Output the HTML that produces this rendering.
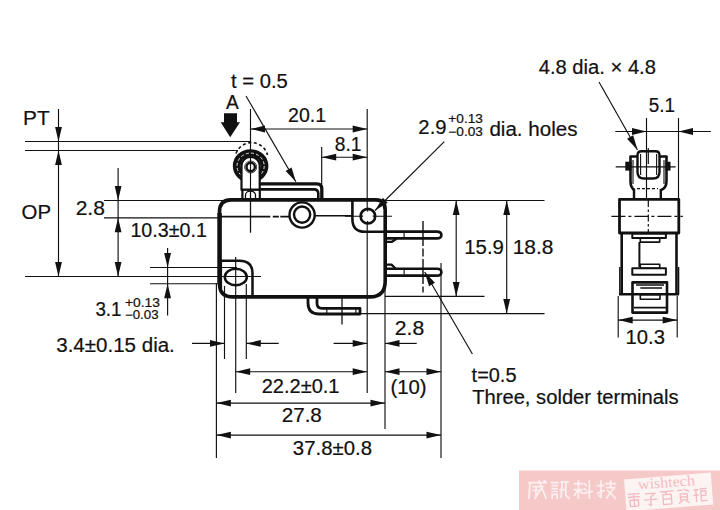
<!DOCTYPE html>
<html><head><meta charset="utf-8"><style>
html,body{margin:0;padding:0;background:#fff;overflow:hidden;}
svg{display:block;}
text{font-family:"Liberation Sans",sans-serif;fill:#111;stroke:#111;stroke-width:0.2px;}
</style></head><body>
<svg width="720" height="510" viewBox="0 0 720 510">
<rect width="720" height="510" fill="#fff"/>
<g stroke="#111" fill="none">
<line x1="25" y1="141.5" x2="250" y2="141.5" stroke-width="1.15"/>
<line x1="25" y1="150.5" x2="238" y2="150.5" stroke-width="1.15"/>
<line x1="25" y1="276.5" x2="261" y2="276.5" stroke-width="1.15"/>
<line x1="58.5" y1="109" x2="58.5" y2="276.5" stroke-width="1.15"/>
<line x1="104" y1="200.5" x2="230" y2="200.5" stroke-width="1.15"/>
<line x1="104" y1="217.9" x2="219" y2="217.9" stroke-width="1.15"/>
<line x1="118.1" y1="168" x2="118.1" y2="276.5" stroke-width="1.15"/>
<line x1="150" y1="267.5" x2="237" y2="267.5" stroke-width="1.15"/>
<line x1="150" y1="283.7" x2="219" y2="283.7" stroke-width="1.15"/>
<line x1="167.6" y1="248" x2="167.6" y2="315.5" stroke-width="1.15"/>
<line x1="250.5" y1="109" x2="250.5" y2="232.5" stroke-width="1.15"/>
<line x1="367.2" y1="109" x2="367.2" y2="393" stroke-width="1.15"/>
<line x1="250.5" y1="129" x2="367.2" y2="129" stroke-width="1.15"/>
<line x1="321.7" y1="147" x2="321.7" y2="184" stroke-width="1.15"/>
<line x1="321.7" y1="157.2" x2="367.2" y2="157.2" stroke-width="1.15"/>
<line x1="246" y1="96" x2="295.9" y2="181.8" stroke-width="1.15"/>
<line x1="444.3" y1="141.6" x2="375" y2="210.5" stroke-width="1.15"/>
<line x1="367.2" y1="200.5" x2="544.5" y2="200.5" stroke-width="1.15"/>
<line x1="385" y1="296.4" x2="484.5" y2="296.4" stroke-width="1.15"/>
<line x1="360" y1="313.6" x2="544.5" y2="313.6" stroke-width="1.15"/>
<line x1="456.2" y1="200.5" x2="456.2" y2="296.4" stroke-width="1.15"/>
<line x1="506.7" y1="200.5" x2="506.7" y2="313.6" stroke-width="1.15"/>
<line x1="423" y1="221" x2="423" y2="292.5" stroke-width="1.4" stroke-dasharray="25,2.5,8,2.5"/>
<line x1="441" y1="263" x2="441" y2="458" stroke-width="1.15"/>
<line x1="424.7" y1="272" x2="472.4" y2="354" stroke-width="1.15"/>
<line x1="216.4" y1="283" x2="216.4" y2="458" stroke-width="1.15"/>
<line x1="224.5" y1="286" x2="224.5" y2="359" stroke-width="1.15"/>
<line x1="235.7" y1="257" x2="235.7" y2="393" stroke-width="1.15"/>
<line x1="246.3" y1="284" x2="246.3" y2="359" stroke-width="1.15"/>
<line x1="385" y1="286" x2="385" y2="429" stroke-width="1.15"/>
<line x1="342" y1="298" x2="342" y2="324.4" stroke-width="1.3"/>
<line x1="192" y1="343.4" x2="224.5" y2="343.4" stroke-width="1.15"/>
<line x1="246.3" y1="343.4" x2="278.7" y2="343.4" stroke-width="1.15"/>
<line x1="333.6" y1="343.4" x2="367.2" y2="343.4" stroke-width="1.15"/>
<line x1="385" y1="343.4" x2="416.7" y2="343.4" stroke-width="1.15"/>
<line x1="235.7" y1="371.7" x2="367.2" y2="371.7" stroke-width="1.15"/>
<line x1="385" y1="371.7" x2="441" y2="371.7" stroke-width="1.15"/>
<line x1="216.4" y1="403.1" x2="385" y2="403.1" stroke-width="1.15"/>
<line x1="216.4" y1="435.1" x2="441" y2="435.1" stroke-width="1.15"/>
<line x1="599" y1="82" x2="637.5" y2="150" stroke-width="1.15"/>
<line x1="646.5" y1="118" x2="646.5" y2="198" stroke-width="1.15"/>
<line x1="678.5" y1="118" x2="678.5" y2="199" stroke-width="1.15"/>
<line x1="615.3" y1="131.5" x2="710.8" y2="131.5" stroke-width="1.15"/>
<line x1="648.3" y1="148" x2="648.3" y2="164" stroke-width="1.2"/>
<line x1="648.3" y1="200" x2="648.3" y2="233" stroke-width="1.2" stroke-dasharray="7,2.5,2.5,2.5"/>
<line x1="611.4" y1="216.3" x2="682.8" y2="216.3" stroke-width="1.2" stroke-dasharray="14,3,3,3"/>
<line x1="618.2" y1="296" x2="618.2" y2="337.5" stroke-width="1.15"/>
<line x1="677.2" y1="296" x2="677.2" y2="337.5" stroke-width="1.15"/>
<line x1="618.2" y1="320.1" x2="677.2" y2="320.1" stroke-width="1.15"/>
<line x1="615.7" y1="166.8" x2="675.6" y2="166.8" stroke-width="1.15"/>
<line x1="345" y1="216.2" x2="392" y2="216.2" stroke-width="1.15"/>
<line x1="355.9" y1="308.5" x2="355.9" y2="314" stroke-width="1.15"/>
<line x1="326.8" y1="308.5" x2="326.8" y2="314" stroke-width="1.15"/>
<line x1="404.1" y1="233" x2="404.1" y2="237.2" stroke-width="1.15"/>
<line x1="404.1" y1="270" x2="404.1" y2="274.4" stroke-width="1.15"/>
</g>
<g stroke="#111" stroke-linejoin="round">
<path d="M231,199.9 H376 Q385.2,199.9 385.2,210 V281 Q385.2,296.9 370,296.9 H233 Q219.5,296.9 219.5,284 V212 Q219.5,199.9 231,199.9 Z" stroke-width="3.6" fill="none"/>
<path d="M289.5,215 a12.6,12.6 0 1,0 25.2,0 a12.6,12.6 0 1,0 -25.2,0Z" stroke-width="2.4" fill="none"/>
<path d="M294,214.6 a8.1,8.1 0 1,0 16.2,0 a8.1,8.1 0 1,0 -16.2,0Z" stroke-width="2.4" fill="none"/>
<path d="M352.4,200 V219 Q352.4,231.8 365,231.8 H385" stroke-width="2.6" fill="none"/>
<path d="M360.6,216.2 a7.3,7.3 0 1,0 14.6,0 a7.3,7.3 0 1,0 -14.6,0Z" stroke-width="2.6" fill="#fff"/>
<path d="M360.5,216.2 H363.2 M372.6,216.2 H375.3 M367.6,208.8 V211.5 M367.6,220.9 V223.6" stroke-width="1.3" fill="none"/>
<path d="M221,216.6 H270.3 M272.8,216.6 H278.9 M280.3,216.6 H289 M315,215.8 H352.4" stroke-width="1.6" fill="none"/>
<path d="M219.6,213 V283" stroke-width="4.4" fill="none"/>
<path d="M219.5,260.8 H239.5 Q252.5,260.8 252.5,273.8 V296" stroke-width="2.5" fill="none"/>
<path d="M221.5,262 V289" stroke-width="1.2" fill="none"/>
<path d="M224.8,277 a11,8.3 0 1,0 22,0 a11,8.3 0 1,0 -22,0Z" stroke-width="2.5" fill="none"/>
<path d="M259,183.9 H317 Q321.8,183.9 321.8,188.7 V200" stroke-width="3.3" fill="none"/>
<path d="M241,189.4 H314 Q318.3,189.4 318.3,193.7 V200" stroke-width="2.6" fill="none"/>
<path d="M242.4,189 V200 M259.8,189 V200" stroke-width="2.2" fill="none"/>
<path d="M245.5,200 V195 A5,4 0 0,1 255.5,195 V200" stroke-width="1.3" fill="none"/>
<path d="M308,297 V303 Q308,314 319,314 H360 V308.3 H322 Q317,308.3 317,303.5 V297" stroke-width="2.8" fill="none"/>
<path d="M385,231.6 H436.8 Q441.4,231.6 441.4,235 Q441.4,238.4 436.8,238.4 H385" stroke-width="2.6" fill="none"/>
<path d="M385,268.8 H436.8 Q441.4,268.8 441.4,272.2 Q441.4,275.6 436.8,275.6 H385" stroke-width="2.6" fill="none"/>
<path d="M385,241.8 H392 L396.5,238.8" stroke-width="2.3" fill="none"/>
<path d="M385,264.6 H391.5 L395.5,268.5" stroke-width="2.3" fill="none"/>
<path d="M619.5,199.4 H678.8 V233 H619.5 Z" stroke-width="2.8" fill="none"/>
<path d="M621.7,233 V294.3 M676.5,233 V294.3 M619,294.3 H679" stroke-width="2.6" fill="none"/>
<path d="M619.8,266.9 V294.3 M678.6,266.9 V294.3" stroke-width="1.4" fill="none"/>
<path d="M632.3,233.5 H665.9 V237.9 H632.3 Z" stroke-width="2.0" fill="none"/>
<path d="M640.3,237.9 H659.7 V242.1 H640.3 Z" stroke-width="1.6" fill="none"/>
<path d="M640.3,264.2 H659.7 V268.3 H640.3 Z" stroke-width="1.6" fill="none"/>
<path d="M632.3,268.3 H665.9 V274.8 H632.3 Z" stroke-width="2.0" fill="none"/>
<path d="M639.4,242 V267" stroke-width="2.0" fill="none"/>
<path d="M632.5,282.4 H667 V312.6 H632.5 Z" stroke-width="2.6" fill="none"/>
<path d="M636,285 H664 M640.3,288 H662 M640.3,294.7 H660 V299.2 H640.3 Z M634,307.6 H666" stroke-width="1.6" fill="none"/>
<path d="M634.5,190 Q630.5,188 630.5,181 V156.5 H637 M661,190 Q666.5,188 666.5,181 V156.5 H660" stroke-width="2.6" fill="none"/>
<path d="M633,160 V184 M664,160 V184" stroke-width="1.1" fill="none"/>
<path d="M637.5,172 V155.3 Q637.5,151.3 641.5,151.3 H655.5 Q659.5,151.3 659.5,155.3 V172 Q659.5,178.5 653,178.5 H644 Q637.5,178.5 637.5,172 Z" stroke-width="2.4" fill="none"/>
<path d="M640.6,154 V175 M656.6,154 V175" stroke-width="1.1" fill="none"/>
<path d="M634,189 V199 M660.8,189 V199" stroke-width="2.4" fill="none"/>
<path d="M637,188.6 H658" stroke-width="1.2" fill="none" stroke-dasharray="3,2"/>
</g>
<ellipse cx="250.6" cy="166" rx="17.8" ry="16.8" fill="#111"/>
<ellipse cx="250.6" cy="166" rx="13.6" ry="12.9" fill="none" stroke="#fff" stroke-width="0.9" stroke-dasharray="3,2.2"/>
<ellipse cx="250.6" cy="166" rx="10" ry="9.5" fill="#fff"/>
<path d="M236,153.5 A16.5,16.5 0 0,1 267.5,155" fill="none" stroke="#111" stroke-width="1.6" stroke-dasharray="3,2.6"/>
<path d="M241.5,189.5 V166 A9.1,9.1 0 0,1 259.7,166 V189.5 Z" fill="#fff" stroke="#111" stroke-width="2.2"/>
<circle cx="250.7" cy="167" r="4.2" fill="#fff" stroke="#111" stroke-width="2.4"/>
<circle cx="250.7" cy="167" r="6" fill="none" stroke="#111" stroke-width="0.8"/>
<line x1="250.5" y1="157" x2="250.5" y2="232.5" stroke="#111" stroke-width="1.15"/>
<path d="M625.3,161.7 H631.5 V170.6 H625.3 Z" fill="#111"/>
<path d="M665.5,161.7 H670.5 V170.6 H665.5 Z" fill="#111"/>
<path d="M224,113.3 H237 V122.3 H240 L230.2,137.3 L220.7,122.3 H224 Z" fill="#111"/>
<g fill="#111" stroke="none">
<path d="M58.50,141.50L55.10,127.00L61.90,127.00Z"/>
<path d="M58.50,150.50L61.90,165.00L55.10,165.00Z"/>
<path d="M58.50,276.50L55.10,262.00L61.90,262.00Z"/>
<path d="M118.10,200.50L114.70,186.00L121.50,186.00Z"/>
<path d="M118.10,217.80L121.50,232.30L114.70,232.30Z"/>
<path d="M118.10,276.50L114.70,262.00L121.50,262.00Z"/>
<path d="M167.60,267.50L164.20,253.00L171.00,253.00Z"/>
<path d="M167.60,283.70L171.00,298.20L164.20,298.20Z"/>
<path d="M250.50,129.00L265.00,125.60L265.00,132.40Z"/>
<path d="M367.20,129.00L352.70,132.40L352.70,125.60Z"/>
<path d="M321.70,157.20L336.20,153.80L336.20,160.60Z"/>
<path d="M367.20,157.20L352.70,160.60L352.70,153.80Z"/>
<path d="M295.90,181.80L285.67,170.98L291.55,167.56Z"/>
<path d="M375.00,210.50L382.89,197.87L387.68,202.69Z"/>
<path d="M456.20,200.50L459.60,215.00L452.80,215.00Z"/>
<path d="M456.20,296.40L452.80,281.90L459.60,281.90Z"/>
<path d="M506.70,200.50L510.10,215.00L503.30,215.00Z"/>
<path d="M506.70,313.60L503.30,299.10L510.10,299.10Z"/>
<path d="M424.70,272.00L434.93,282.82L429.05,286.24Z"/>
<path d="M224.50,343.40L210.00,346.80L210.00,340.00Z"/>
<path d="M246.30,343.40L260.80,340.00L260.80,346.80Z"/>
<path d="M367.20,343.40L352.70,346.80L352.70,340.00Z"/>
<path d="M385.00,343.40L399.50,340.00L399.50,346.80Z"/>
<path d="M235.70,371.70L250.20,368.30L250.20,375.10Z"/>
<path d="M367.20,371.70L352.70,375.10L352.70,368.30Z"/>
<path d="M385.00,371.70L399.50,368.30L399.50,375.10Z"/>
<path d="M441.00,371.70L426.50,375.10L426.50,368.30Z"/>
<path d="M216.40,403.10L230.90,399.70L230.90,406.50Z"/>
<path d="M385.00,403.10L370.50,406.50L370.50,399.70Z"/>
<path d="M216.40,435.10L230.90,431.70L230.90,438.50Z"/>
<path d="M441.00,435.10L426.50,438.50L426.50,431.70Z"/>
<path d="M637.50,150.00L627.06,138.67L633.16,135.22Z"/>
<path d="M646.50,131.50L632.00,134.90L632.00,128.10Z"/>
<path d="M678.50,131.50L693.00,128.10L693.00,134.90Z"/>
<path d="M618.20,320.10L632.70,316.70L632.70,323.50Z"/>
<path d="M677.20,320.10L662.70,323.50L662.70,316.70Z"/>
</g>
<g>
<text x="23.10" y="125.00" font-size="20.5" textLength="26.56" lengthAdjust="spacingAndGlyphs">PT</text>
<text x="21.56" y="218.70" font-size="20.5" textLength="29.48" lengthAdjust="spacingAndGlyphs">OP</text>
<text x="75.65" y="214.70" font-size="19.6" textLength="29.24" lengthAdjust="spacingAndGlyphs">2.8</text>
<text x="130.40" y="237.10" font-size="19.6" textLength="76.53" lengthAdjust="spacingAndGlyphs">10.3±0.1</text>
<text x="95.39" y="316.20" font-size="19.6" textLength="26.12" lengthAdjust="spacingAndGlyphs">3.1</text>
<text x="124.94" y="306.60" font-size="12.0" textLength="35.05" lengthAdjust="spacingAndGlyphs">+0.13</text>
<text x="124.96" y="319.30" font-size="12.0" textLength="33.60" lengthAdjust="spacingAndGlyphs">−0.03</text>
<text x="56.22" y="352.00" font-size="19.6" textLength="118.62" lengthAdjust="spacingAndGlyphs">3.4±0.15 dia.</text>
<text x="231.12" y="88.40" font-size="19.6" textLength="56.68" lengthAdjust="spacingAndGlyphs">t = 0.5</text>
<text x="225.96" y="109.40" font-size="19.6" textLength="12.76" lengthAdjust="spacingAndGlyphs">A</text>
<text x="288.02" y="121.50" font-size="19.6" textLength="38.02" lengthAdjust="spacingAndGlyphs">20.1</text>
<text x="334.79" y="150.70" font-size="19.6" textLength="26.73" lengthAdjust="spacingAndGlyphs">8.1</text>
<text x="418.39" y="134.00" font-size="19.6" textLength="28.15" lengthAdjust="spacingAndGlyphs">2.9</text>
<text x="448.34" y="122.80" font-size="12.0" textLength="34.53" lengthAdjust="spacingAndGlyphs">+0.13</text>
<text x="448.34" y="135.80" font-size="12.0" textLength="34.53" lengthAdjust="spacingAndGlyphs">−0.03</text>
<text x="489.44" y="135.90" font-size="19.6" textLength="88.02" lengthAdjust="spacingAndGlyphs">dia. holes</text>
<text x="464.25" y="254.00" font-size="19.6" textLength="39.69" lengthAdjust="spacingAndGlyphs">15.9</text>
<text x="512.71" y="254.00" font-size="19.6" textLength="40.78" lengthAdjust="spacingAndGlyphs">18.8</text>
<text x="394.74" y="334.90" font-size="19.6" textLength="29.45" lengthAdjust="spacingAndGlyphs">2.8</text>
<text x="261.75" y="392.90" font-size="19.6" textLength="77.70" lengthAdjust="spacingAndGlyphs">22.2±0.1</text>
<text x="390.44" y="394.30" font-size="19.6" textLength="36.19" lengthAdjust="spacingAndGlyphs">(10)</text>
<text x="281.67" y="422.30" font-size="19.6" textLength="40.21" lengthAdjust="spacingAndGlyphs">27.8</text>
<text x="292.83" y="454.90" font-size="19.6" textLength="79.22" lengthAdjust="spacingAndGlyphs">37.8±0.8</text>
<text x="471.62" y="381.90" font-size="19.6" textLength="44.88" lengthAdjust="spacingAndGlyphs">t=0.5</text>
<text x="472.16" y="404.00" font-size="19.6" textLength="206.37" lengthAdjust="spacingAndGlyphs">Three, solder terminals</text>
<text x="538.66" y="74.00" font-size="19.6" textLength="117.30" lengthAdjust="spacingAndGlyphs">4.8 dia. × 4.8</text>
<text x="648.84" y="112.40" font-size="19.6" textLength="26.27" lengthAdjust="spacingAndGlyphs">5.1</text>
<text x="625.56" y="344.40" font-size="19.6" textLength="39.39" lengthAdjust="spacingAndGlyphs">10.3</text>
</g>
<rect x="519" y="470.5" width="201" height="39.5" fill="#f6c9c9"/>
<path d="M529.0,482.7L546.0,482.7M530.0,482.7L529.0,498.3M533.0,486.6L543.0,486.6M533.0,490.5L539.0,490.5M536.0,486.6L536.0,495.4M539.0,480.8L546.0,498.3M542.0,487.6L535.0,498.3M544.0,480.8L546.0,482.1" stroke="#fdf0f1" stroke-width="1.7" fill="none" stroke-linecap="round"/>
<path d="M551.2,482.7L558.2,482.7M552.2,485.7L557.2,485.7M552.2,488.6L557.2,488.6M552.2,491.5L557.2,491.5M552.2,494.4L557.2,494.4M552.2,494.4L552.2,498.3M557.2,494.4L557.2,498.3M561.2,481.8L568.2,481.8M562.2,481.8L561.2,497.4M565.8,481.8L565.8,495.4M565.8,495.4L569.2,498.3M560.2,489.6L564.6,489.6" stroke="#fdf0f1" stroke-width="1.7" fill="none" stroke-linecap="round"/>
<path d="M574.4,483.7L582.4,483.7M578.4,480.8L578.4,498.3M574.4,489.6L582.4,489.6M578.4,489.6L574.4,495.4M578.4,489.6L582.4,493.4M584.4,483.7L586.4,485.7M584.4,488.6L586.4,490.5M583.4,493.4L592.4,491.5M589.4,480.8L589.4,498.3" stroke="#fdf0f1" stroke-width="1.7" fill="none" stroke-linecap="round"/>
<path d="M597.6,485.7L603.6,485.7M601.0,480.8L601.0,497.4M601.0,497.4L599.0,495.8M597.6,493.4L604.2,490.5M605.6,483.7L615.6,483.7M610.6,480.8L610.6,487.6M606.6,487.6L614.6,487.6M614.2,487.6L606.6,498.3M607.6,490.5L615.6,498.3" stroke="#fdf0f1" stroke-width="1.7" fill="none" stroke-linecap="round"/>
<g transform="rotate(-4.5 668 490)"><rect x="625" y="476" width="87" height="32" fill="#fcf3f3"/></g>
<text x="638" y="487.2" style="font-family:&quot;Liberation Serif&quot;,serif;font-size:15px;fill:#f3bcc2;stroke:none" textLength="57" lengthAdjust="spacingAndGlyphs" transform="rotate(-4.5 668 484)">wishtech</text>
<g transform="rotate(-4.5 668 497)"><path d="M628.4,491.3L639.6,491.3M634.0,491.3L634.0,503.5M628.4,494.4L639.6,494.4M629.8,497.4L638.2,497.4M629.8,497.4L629.8,503.5M638.2,497.4L638.2,503.5M629.8,503.5L638.2,503.5" stroke="#f2b9bf" stroke-width="1.3" fill="none" stroke-linecap="round"/><path d="M645.7,492.1L655.5,492.1M655.5,492.1L650.6,495.9M650.6,495.9L650.6,504.2M650.6,504.2L648.5,502.7M644.3,498.2L656.9,498.2" stroke="#f2b9bf" stroke-width="1.3" fill="none" stroke-linecap="round"/><path d="M660.9,491.3L673.5,491.3M667.2,491.3L665.8,494.4M663.0,494.4L671.4,494.4M663.0,494.4L663.0,504.2M671.4,494.4L671.4,504.2M663.0,498.9L671.4,498.9M663.0,504.2L671.4,504.2" stroke="#f2b9bf" stroke-width="1.3" fill="none" stroke-linecap="round"/><path d="M678.2,491.3L682.4,491.3M684.5,490.6L689.4,492.8M680.3,495.1L687.3,495.1M680.3,495.1L680.3,501.2M687.3,495.1L687.3,501.2M680.3,498.2L687.3,498.2M680.3,501.2L687.3,501.2M681.7,502.0L678.9,504.2M685.9,502.0L688.7,504.2" stroke="#f2b9bf" stroke-width="1.3" fill="none" stroke-linecap="round"/><path d="M694.8,492.1L698.3,492.1M696.2,492.1L696.2,503.5M694.1,497.4L698.3,497.4M700.4,491.3L706.7,491.3M701.1,493.6L706.0,493.6M701.1,493.6L701.1,503.5M706.0,493.6L706.0,498.2M701.1,498.2L706.0,498.2M701.1,503.5L706.7,503.5" stroke="#f2b9bf" stroke-width="1.3" fill="none" stroke-linecap="round"/></g>
</svg>
</body></html>
